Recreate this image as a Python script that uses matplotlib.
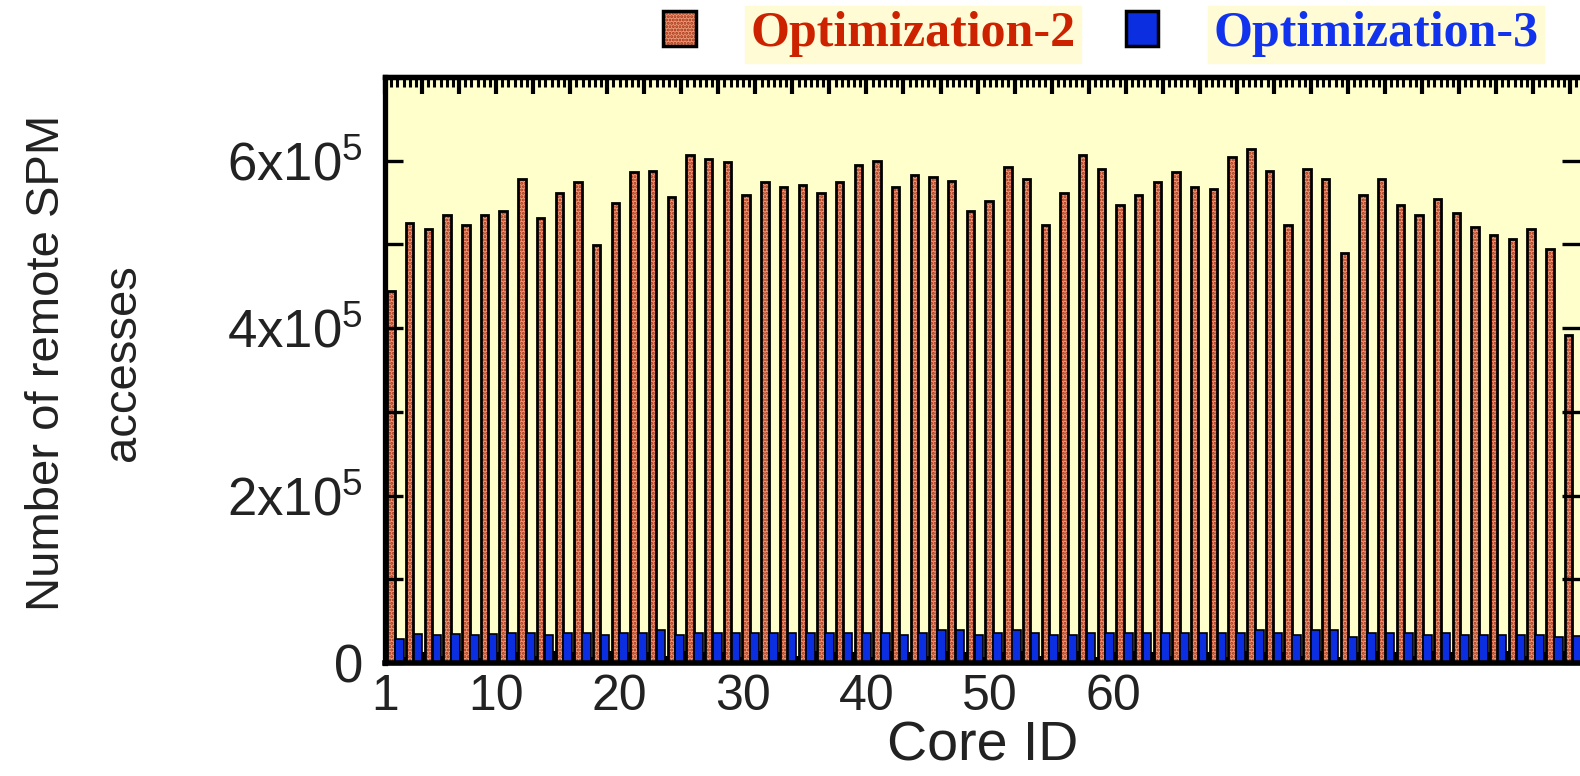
import numpy as np
import matplotlib.pyplot as plt
from matplotlib.patches import Patch
from matplotlib.ticker import MultipleLocator

plt.rcParams['mathtext.fontset'] = 'custom'
plt.rcParams['mathtext.rm'] = 'Liberation Sans'
plt.rcParams['hatch.linewidth'] = 1.4

cores = np.arange(1, 65)
opt2 = [444, 526, 519, 535, 523, 535, 540, 578, 531, 562, 574, 499, 550, 586, 588, 557,
        607, 602, 598, 559, 574, 569, 571, 562, 574, 595, 600, 569, 583, 581, 576, 540,
        552, 593, 578, 523, 562, 607, 590, 547, 559, 574, 586, 569, 566, 605, 614, 588,
        523, 590, 578, 490, 559, 578, 547, 535, 554, 538, 521, 511, 507, 519, 495, 392]
opt3 = [29, 35, 33, 35, 33, 35, 36, 36, 34, 36, 36, 33, 36, 36, 39, 34,
        36, 36, 36, 36, 36, 36, 36, 36, 36, 36, 36, 34, 36, 39, 39, 34,
        36, 39, 36, 33, 34, 36, 36, 36, 36, 36, 36, 36, 36, 36, 39, 36,
        34, 39, 39, 31, 36, 36, 36, 34, 36, 34, 33, 33, 34, 33, 31, 32]
# dark bars hugging the x axis
base = [14, 7, 13, 8, 14, 6, 13, 13, 8, 14, 13, 7, 14, 13, 13, 8,
        14, 13, 13, 7, 14, 13, 8, 14, 13, 13, 7, 14, 13, 8, 14, 13,
        7, 13, 14, 8, 13, 14, 7, 13, 14, 13, 8, 14, 13, 7, 14, 13,
        13, 8, 14, 7, 13, 14, 13, 8, 14, 13, 7, 13, 14, 8, 13, 14]
opt2 = np.array(opt2) * 1000
opt3 = np.array(opt3) * 1000
base = np.array(base) * 1000

yticks = np.arange(0, 7.1e5, 1e5)
ytick_labels = ['0', '', '2x10$^5$', '', '4x10$^5$', '', '6x10$^5$', '']
xticks = [1, 10, 20, 30, 40, 50, 60]

step = 1.514
pos = 1.49 + (cores - 1) * step

fig = plt.figure(figsize=(15.8, 7.76), dpi=100)
ax = fig.add_axes([385 / 1580, 1 - 663 / 776, 1 - 385 / 1580, (663 - 77) / 776])
ax.set_facecolor('#ffffcc')

ax.bar(pos + 0.1, base, width=step, color='black', linewidth=0)
ax.bar(pos, opt2, width=0.6, facecolor='#e89a78', edgecolor='#a82c10',
       hatch='.....', linewidth=0)
ax.bar(pos, opt2, width=0.6, fill=False, edgecolor='black', linewidth=2)
ax.bar(pos + 0.68, opt3, width=0.7, facecolor='#0a2ee0', edgecolor='black', linewidth=1.2)

ax.set_xlim(1, 97.8)
ax.set_ylim(0, 7e5)
ax.set_yticks(yticks)
ax.set_yticklabels(ytick_labels)
ax.set_xticks(xticks)
ax.set_xticklabels([str(x) for x in xticks])
ax.tick_params(axis='y', direction='in', length=13, width=2.4, right=True,
               labelsize=38, pad=16)
ax.tick_params(axis='x', direction='in', length=0, labelsize=36, pad=8)
for lab in ax.get_xticklabels() + ax.get_yticklabels():
    lab.set_fontfamily('Liberation Sans')
    lab.set_color('#222222')

top = ax.secondary_xaxis('top')
top.set_xticks(np.arange(1, 98, 3))
top.xaxis.set_minor_locator(MultipleLocator(0.5))
top.tick_params(which='major', direction='in', length=12, width=3, labeltop=False)
top.tick_params(which='minor', direction='in', length=7, width=2.2)
top.spines['top'].set_linewidth(3.8)

ax.spines['left'].set_linewidth(3.8)
ax.spines['bottom'].set_linewidth(4)
ax.spines['top'].set_linewidth(3.8)
ax.spines['right'].set_visible(False)

ax.set_xlabel('Core ID', fontsize=40, family='Liberation Sans', color='#222222', labelpad=0)
fig.text(85 / 1580, 1 - 363 / 776, 'Number of remote SPM\naccesses', rotation=90,
         ha='center', va='center', multialignment='center', fontsize=34,
         family='Liberation Sans', color='#222222', linespacing=1.95)

h2 = (Patch(facecolor='#e89a78', edgecolor='#a82c10', hatch='.....', linewidth=0),
      Patch(fill=False, edgecolor='black', linewidth=2.5))
h3 = Patch(facecolor='#0a2ee0', edgecolor='black', linewidth=2.5)
leg = fig.legend([h2, h3], ['Optimization-2', 'Optimization-3'], ncol=2,
                 loc='center left', bbox_to_anchor=(663 / 1580, 1 - 34 / 776), frameon=False,
                 prop={'family': 'Liberation Serif', 'weight': 'bold', 'size': 36},
                 handlelength=0.65, handleheight=0.7, handletextpad=1.1, columnspacing=1.0,
                 borderpad=0, borderaxespad=0)
for t, c in zip(leg.get_texts(), ['#cc2200', '#1133ee']):
    t.set_color(c)
    t.set_backgroundcolor('#fffbd4')

fig.savefig('out.png', dpi=100)
